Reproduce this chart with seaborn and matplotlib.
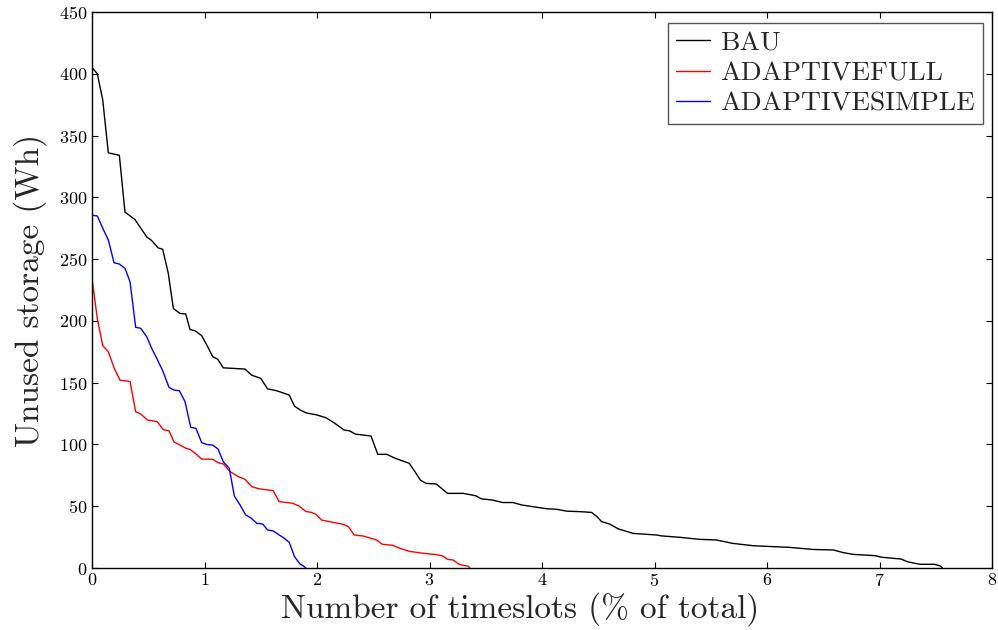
#!/usr/bin/env python3
# plot.py -- unused storage duration curves for BAU vs adaptive strategies

import pandas as pd
import seaborn as sns
import matplotlib.pyplot as plt

# --- 1. Data ---
bau_x = [0.0, 0.047, 0.095, 0.145, 0.243, 0.293, 0.382, 0.486, 0.53, 0.589, 0.628,
         0.678, 0.723, 0.782, 0.833, 0.871, 0.916, 0.975, 1.02, 1.073, 1.117, 1.167,
         1.36, 1.42, 1.5, 1.56, 1.64, 1.753, 1.80, 1.849, 1.904, 1.993, 2.08, 2.16,
         2.24, 2.29, 2.34, 2.48, 2.54, 2.62, 2.69, 2.82, 2.87, 2.92, 2.97, 3.06, 3.16,
         3.30, 3.41, 3.46, 3.56, 3.65, 3.74, 3.82, 3.92, 4.04, 4.13, 4.22, 4.34, 4.44,
         4.49, 4.53, 4.6, 4.68, 4.81, 5.02, 5.06, 5.23, 5.40, 5.55, 5.69, 5.88, 6.2,
         6.41, 6.59, 6.68, 6.77, 6.96, 7.02, 7.19, 7.25, 7.36, 7.49, 7.54, 7.56]
bau_y = [405, 400, 379, 336, 334, 288, 282, 268, 265, 259, 258,
         238.5, 210, 206, 205.6, 193, 192, 188, 180.5, 171, 169, 162,
         161, 156, 153.5, 145, 143.5, 140, 131, 128, 125.5, 124, 121.6, 117,
         111.7, 111, 108.4, 106.8, 92, 92, 89, 84.7, 78, 71, 68.5, 68, 60.4,
         60.4, 58.5, 56, 55, 53, 53, 51, 49.6, 48, 47.5, 46, 45.6, 45,
         41.5, 37.5, 35.6, 31.6, 28, 26.7, 26, 24.8, 23.2, 22.7, 20, 18, 16.7,
         15, 14.6, 12.4, 11, 10, 8.7, 7.3, 5, 3, 3, 1.6, 0]

full_x = [0.0, 0.047, 0.095, 0.145, 0.196, 0.249, 0.338, 0.388, 0.433, 0.492, 0.58,
          0.634, 0.684, 0.729, 0.782, 0.835, 0.871, 0.924, 0.975, 1.073, 1.12, 1.167,
          1.227, 1.3, 1.36, 1.42, 1.48, 1.61, 1.664, 1.784, 1.84, 1.90, 1.95, 1.99,
          2.04, 2.14, 2.23, 2.28, 2.33, 2.41, 2.53, 2.58, 2.67, 2.74, 2.82, 2.93,
          3.06, 3.12, 3.16, 3.21, 3.26, 3.31, 3.34, 3.36]
full_y = [234, 202, 180, 175, 162, 152, 151, 126.5, 124.6, 119.8, 118.4,
          112, 111, 102, 99.5, 96.9, 96, 92.3, 88.2, 88, 85.2, 84.2,
          78, 74, 71.8, 65.8, 64.2, 62.6, 53.7, 52.4, 50.2, 45.8, 45, 43.5,
          38.8, 37, 35.4, 33.4, 26.7, 25.9, 22.7, 19.2, 18.4, 15.9, 13.5, 12.1,
          10.8, 9.7, 7, 6.5, 3.2, 1.9, 1.6, 0]

simple_x = [0.0, 0.047, 0.095, 0.145, 0.196, 0.243, 0.293, 0.338, 0.388, 0.433,
            0.486, 0.53, 0.575, 0.628, 0.684, 0.729, 0.776, 0.827, 0.877, 0.924,
            0.975, 1.02, 1.073, 1.12, 1.167, 1.22, 1.265, 1.316, 1.366, 1.41, 1.464,
            1.517, 1.56, 1.61, 1.665, 1.71, 1.753, 1.80, 1.849, 1.88, 1.90]
simple_y = [285.5, 284.9, 275, 265.5, 247, 246, 242.5, 231.7, 194.8, 194,
            187.2, 177.8, 169.7, 159.7, 146.2, 144, 143.5, 134.6, 113.9, 113,
            101.4, 100, 99.5, 96.3, 86, 80.7, 58.3, 51, 42.9, 40.7, 36.2,
            35.6, 30.8, 30, 26.7, 24, 20.8, 9.2, 3.2, 1.6, 0]

series_names = ["BAU", "ADAPTIVEFULL", "ADAPTIVESIMPLE"]
series_colors = ["black", "red", "blue"]

# --- 2. Long-form table ---
df = pd.concat([
    pd.DataFrame({"pct": bau_x, "unused": bau_y, "strategy": series_names[0]}),
    pd.DataFrame({"pct": full_x, "unused": full_y, "strategy": series_names[1]}),
    pd.DataFrame({"pct": simple_x, "unused": simple_y, "strategy": series_names[2]}),
], ignore_index=True)

# --- 3. Style ---
sns.set_style("ticks")
plt.rcParams["font.family"] = ["cmr10", "DejaVu Serif"]
plt.rcParams["mathtext.fontset"] = "cm"
plt.rcParams["axes.unicode_minus"] = False
plt.rcParams["axes.formatter.use_mathtext"] = True

fig, ax = plt.subplots(figsize=(9.98, 6.3), dpi=100)

# --- 4. Lines ---
sns.lineplot(
    data=df, x="pct", y="unused", hue="strategy",
    hue_order=series_names, palette=series_colors,
    sort=False, estimator=None, linewidth=1.0, ax=ax
)

ax.set_xlim(0, 8)
ax.set_ylim(0, 450)
ax.set_xticks(range(0, 9))
ax.set_yticks(range(0, 451, 50))
ax.set_xlabel("Number of timeslots (% of total)", fontsize=24)
ax.set_ylabel("Unused storage (Wh)", fontsize=24)
ax.xaxis.set_label_coords(0.4756, -0.043)
ax.yaxis.set_label_coords(-0.05, 0.5)
ax.tick_params(direction="in", length=4, width=0.8, top=True, right=True,
               labelsize=13, pad=3, colors="black")
for s in ax.spines.values():
    s.set_linewidth(1.0)
    s.set_color("black")

# --- 5. Legend (upper right, square frame) ---
leg = ax.legend(loc="upper right", bbox_to_anchor=(0.99, 0.981),
                fontsize=19.8, frameon=True, fancybox=False,
                framealpha=1, edgecolor="#555555", handlelength=1.25,
                handletextpad=0.35, borderpad=0.3, labelspacing=0.22,
                borderaxespad=0.0)
leg.get_frame().set_linewidth(1.0)
leg.set_title(None)

fig.subplots_adjust(left=0.0922, right=0.994, top=0.981, bottom=0.0984)
fig.savefig("out.png", dpi=100)
plt.close(fig)
